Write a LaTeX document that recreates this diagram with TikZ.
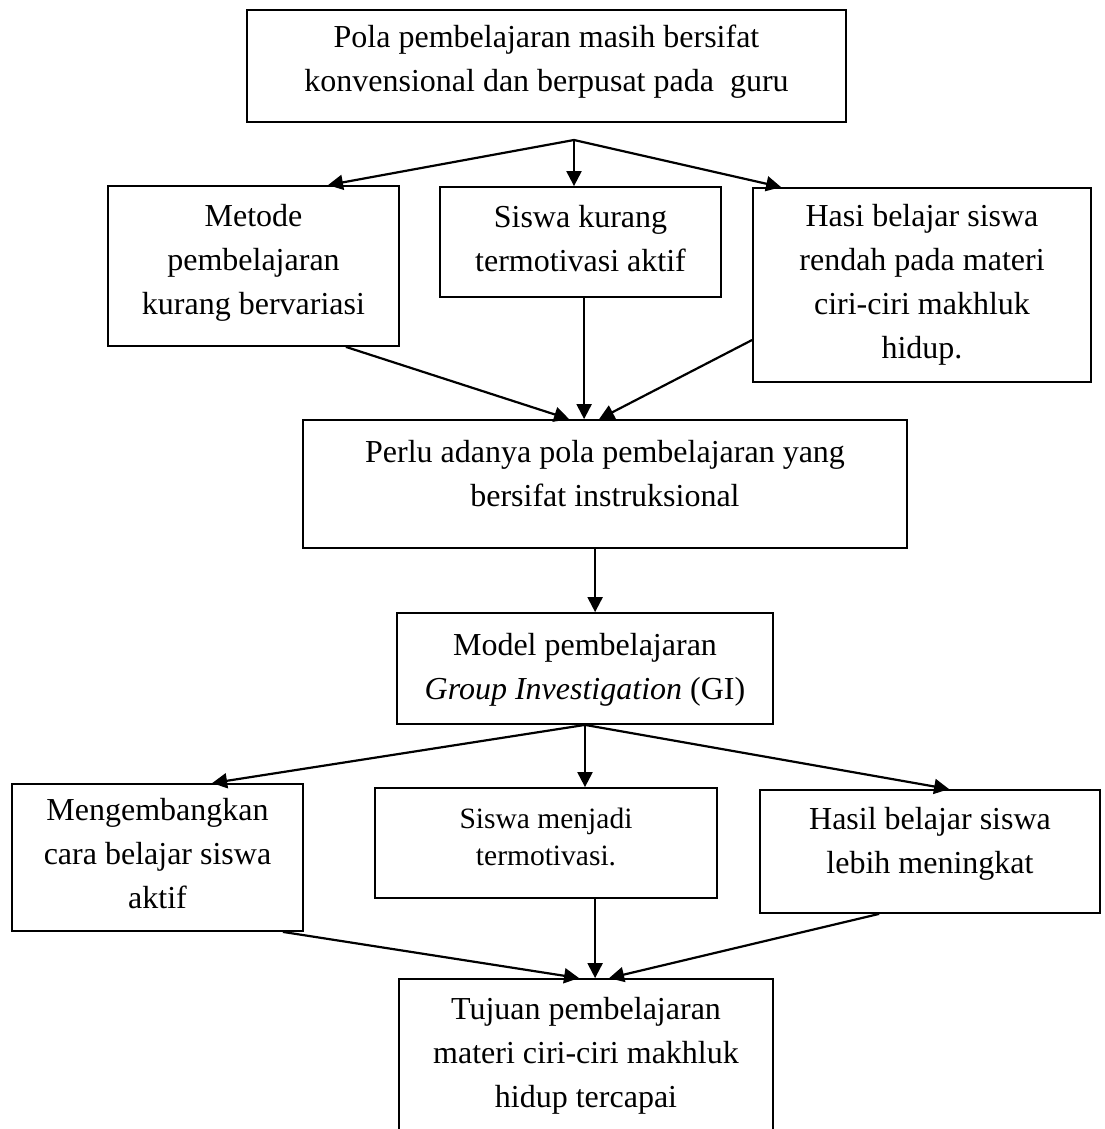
\documentclass[tikz,border=0pt]{standalone}
\usepackage{fontspec}
\setmainfont{Liberation Serif}
\usetikzlibrary{arrows.meta}
\begin{document}
\begin{tikzpicture}[x=1pt,y=-1pt,
  box/.style={draw=black,line width=1.8pt,rectangle,inner sep=0pt},
  txt/.style={align=center,inner sep=0pt,font=\fontsize{32}{44}\selectfont},
  smalltxt/.style={align=center,inner sep=0pt,font=\fontsize{29.5}{37}\selectfont},
  conn/.style={line width=2.2pt,-{Triangle[length=15pt,width=15pt]}}]
\clip (0,0) rectangle (1104,1129);
\fill[white] (0,0) rectangle (1104,1129);
% boxes
\node[box,minimum width=599pt,minimum height=112pt] (A) at (546.5,66) {};
\node[box,minimum width=291pt,minimum height=160pt] (B) at (253.5,266) {};
\node[box,minimum width=281pt,minimum height=110pt] (C) at (580.5,242) {};
\node[box,minimum width=338pt,minimum height=194pt] (D) at (922,285) {};
\node[box,minimum width=604pt,minimum height=128pt] (P) at (605,484) {};
\node[box,minimum width=376pt,minimum height=111pt] (M) at (585,668.5) {};
\node[box,minimum width=291pt,minimum height=147pt] (E) at (157.5,857.5) {};
\node[box,minimum width=342pt,minimum height=110pt] (S) at (546,843) {};
\node[box,minimum width=340pt,minimum height=123pt] (H) at (930,851.5) {};
\node[box,minimum width=374pt,minimum height=161pt] (T) at (586,1059.5) {};
% texts
\node[txt] (tA) at (546.5,62) {Pola pembelajaran masih bersifat\\konvensional dan berpusat pada~ guru};
\node[txt] (tB) at (253.5,263) {Metode\\pembelajaran\\kurang bervariasi};
\node[txt] (tC) at (580.5,239) {Siswa kurang\\termotivasi aktif};
\node[txt] (tD) at (922,285) {Hasi belajar siswa\\rendah pada materi\\ciri-ciri makhluk\\hidup.};
\node[txt] (tP) at (605,474) {Perlu adanya pola pembelajaran yang\\bersifat instruksional};
\node[txt] (tM) at (585,669.5) {Model pembelajaran\\\textit{Group Investigation} (GI)};
\node[txt] (tE) at (157.5,854) {Mengembangkan\\cara belajar siswa\\aktif};
\node[smalltxt] (tS) at (546,837) {Siswa menjadi\\termotivasi.};
\node[txt] (tH) at (930,843.5) {Hasil belajar siswa\\lebih meningkat};
\node[txt] (tT) at (586,1055.5) {Tujuan pembelajaran\\materi ciri-ciri makhluk\\hidup tercapai};
% connectors
\coordinate (fork1) at (574,140);
\draw[conn] (fork1) -- ([xshift=74.5pt]B.north);
\draw[conn] (fork1) -- (fork1 |- C.north);
\draw[conn] (fork1) -- ([xshift=29pt]D.north west);
\draw[conn] ([xshift=-54pt]B.south east) -- ([xshift=267pt]P.north west);
\draw[conn] ([xshift=145pt]C.south west) -- ([xshift=282pt]P.north west);
\draw[conn] ([yshift=-55pt]D.west) -- ([xshift=297pt]P.north west);
\draw[conn] ([xshift=293pt]P.south west) -- ([xshift=199pt]M.north west);
\draw[conn] (M.south) -- ([xshift=201pt]E.north west);
\draw[conn] (M.south) -- (M.south |- S.north);
\draw[conn] (M.south) -- ([xshift=190pt]H.north west);
\draw[conn] ([xshift=-21pt]E.south east) -- ([xshift=181pt]T.north west);
\draw[conn] ([xshift=221pt]S.south west) -- ([xshift=197pt]T.north west);
\draw[conn] ([xshift=120pt]H.south west) -- ([xshift=211pt]T.north west);
\end{tikzpicture}
\end{document}
